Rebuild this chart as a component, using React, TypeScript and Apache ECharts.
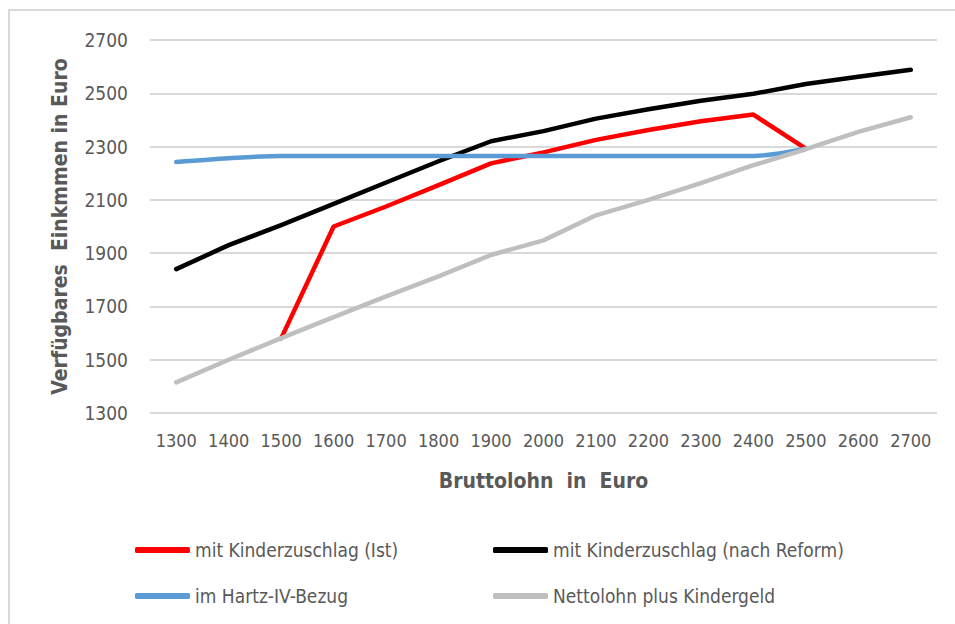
import React, { useEffect, useRef } from "react";
import * as echarts from "echarts";

const categories = ["1300", "1400", "1500", "1600", "1700", "1800", "1900", "2000", "2100", "2200", "2300", "2400", "2500", "2600", "2700"];
const istValues = [null, null, 1580, 2000, 2075, 2155, 2237, 2278, 2325, 2362, 2395, 2420, 2292, null, null];
const reformValues = [1840, 1930, 2005, 2085, 2165, 2245, 2320, 2358, 2405, 2440, 2472, 2498, 2535, 2562, 2588];
const hartzValues = [2242, 2256, 2265, 2265, 2265, 2265, 2265, 2265, 2265, 2265, 2265, 2265, 2292, null, null];
const nettoValues = [1415, 1500, 1581, 1660, 1738, 1813, 1893, 1948, 2042, 2100, 2163, 2230, 2290, 2355, 2410];

const seriesNames = [
  "mit Kinderzuschlag (Ist)",
  "mit Kinderzuschlag (nach Reform)",
  "im Hartz-IV-Bezug",
  "Nettolohn plus Kindergeld",
];
const seriesColors = ["#FF0000", "#000000", "#5B9BD5", "#BFBFBF"];
const yTicks = { min: 1300, max: 2700, interval: 200 };

const FONT = '"DejaVu Sans Condensed", "Liberation Sans Narrow", sans-serif';
const TEXT = "#595959";

export default function App() {
  const ref = useRef<HTMLDivElement>(null);
  useEffect(() => {
    document.body.style.margin = "0";
    if (!ref.current) return;
    const chart = echarts.init(ref.current, undefined, { renderer: "svg" });
    const data = [istValues, reformValues, hartzValues, nettoValues];
    const legendPos = [
      { left: 135, top: 539 },
      { left: 493, top: 539 },
      { left: 135, top: 585 },
      { left: 493, top: 585 },
    ];
    chart.setOption({
      animation: false,
      backgroundColor: "#ffffff",
      textStyle: { fontFamily: FONT },
      grid: { left: 150, right: 18, top: 40, bottom: 211 },
      xAxis: {
        type: "category",
        data: categories,
        boundaryGap: true,
        axisLine: { show: false },
        axisTick: { show: false },
        axisLabel: { color: TEXT, fontSize: 18, fontFamily: FONT, margin: 18, interval: 0 },
        name: "Bruttolohn  in  Euro",
        nameLocation: "middle",
        nameGap: 57,
        nameTextStyle: { color: TEXT, fontSize: 21, fontWeight: "bold", fontFamily: FONT },
      },
      yAxis: {
        type: "value",
        min: yTicks.min,
        max: yTicks.max,
        interval: yTicks.interval,
        axisLine: { show: false },
        axisTick: { show: false },
        axisLabel: { color: TEXT, fontSize: 19, fontFamily: FONT, margin: 22, formatter: (v: number) => String(v) },
        splitLine: { lineStyle: { color: "#D9D9D9", width: 2 } },
        name: "Verfügbares  Einkmmen in Euro",
        nameLocation: "middle",
        nameGap: 80,
        nameTextStyle: { color: TEXT, fontSize: 21, fontWeight: "bold", fontFamily: FONT },
      },
      legend: seriesNames.map((n, i) => ({
        data: [n],
        left: legendPos[i].left,
        top: legendPos[i].top,
        icon: "roundRect",
        itemWidth: 55,
        itemHeight: 6,
        padding: 0,
        selectedMode: false,
        textStyle: { color: TEXT, fontSize: 19, fontFamily: FONT, lineHeight: 22 },
      })),
      graphic: [
        {
          type: "rect",
          shape: { x: 9, y: 10, width: 1000, height: 700 },
          style: { fill: "none", stroke: "#D9D9D9", lineWidth: 2 },
          silent: true,
        },
      ],
      series: seriesNames.map((n, i) => ({
        name: n,
        type: "line",
        data: data[i],
        symbol: "none",
        connectNulls: false,
        smooth: i === 2 ? 0.3 : false,
        color: seriesColors[i],
        lineStyle: { color: seriesColors[i], width: 4.5, cap: "round", join: "round" },
      })),
    });
    return () => chart.dispose();
  }, []);
  return <div ref={ref} style={{ width: 955, height: 624 }} />;
}
